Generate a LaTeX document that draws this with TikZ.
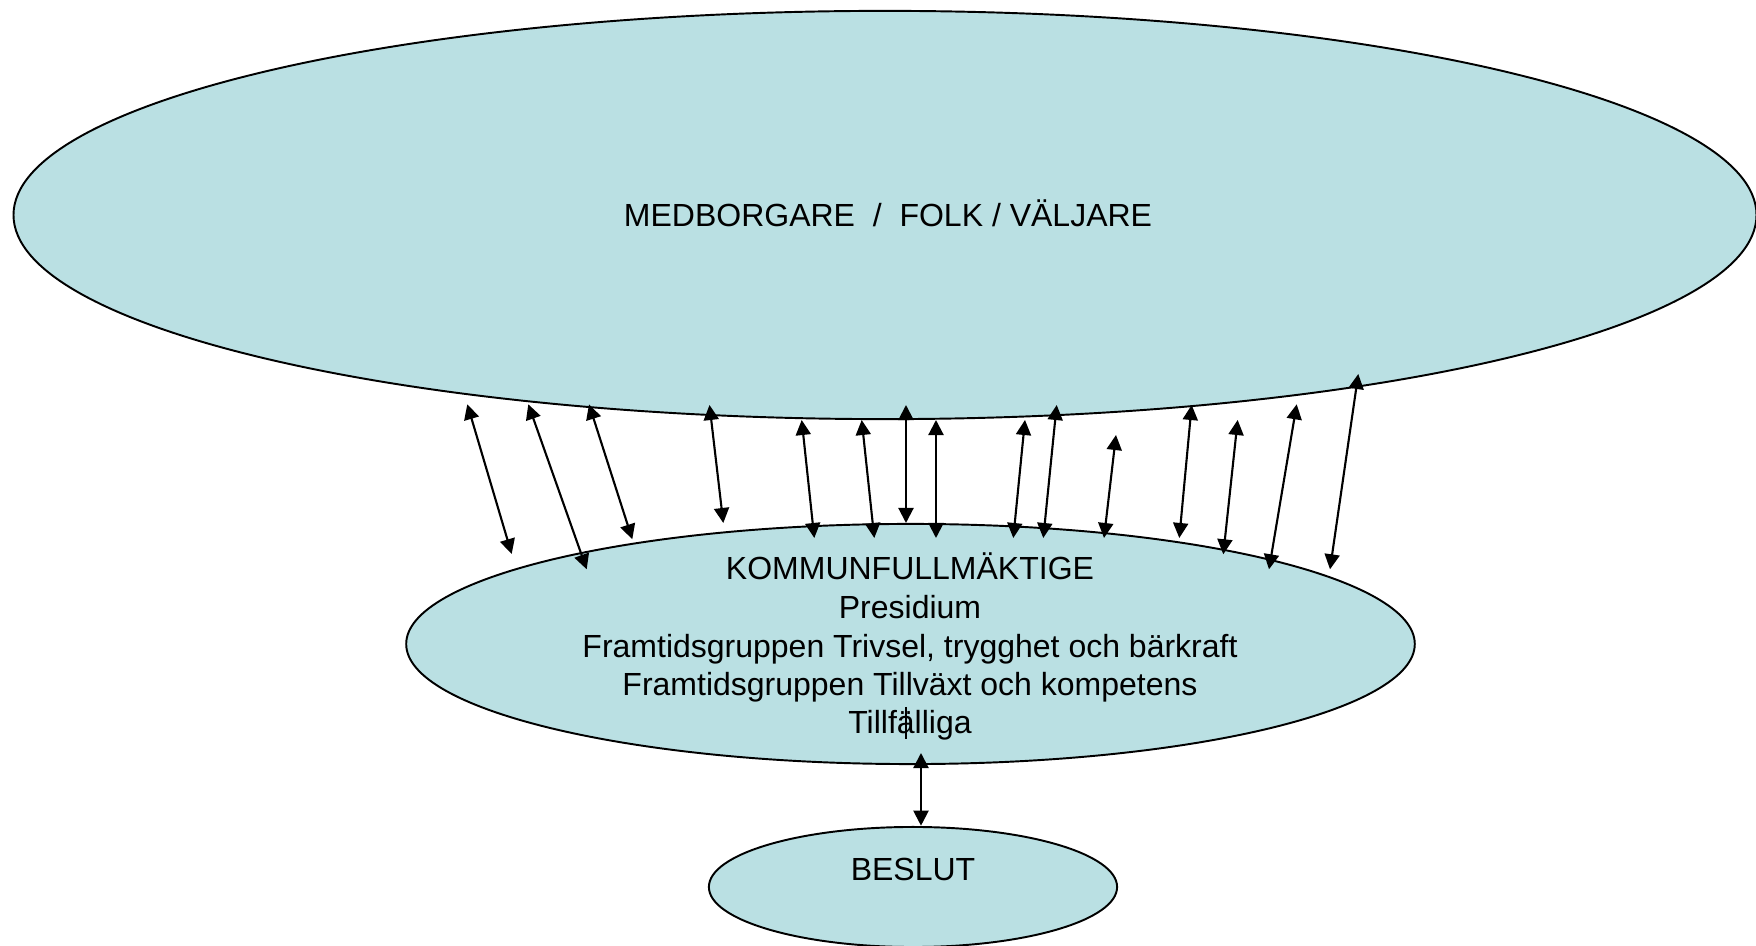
\documentclass[tikz,border=0pt]{standalone}
\usepackage{fontspec}
\setmainfont{Liberation Sans}
\usetikzlibrary{shapes.geometric,arrows.meta}
\definecolor{bubblefill}{RGB}{186,224,227}
\begin{document}
\begin{tikzpicture}[x=0.01cm,y=-0.01cm,
  bubble/.style={ellipse,draw=black,line width=0.55pt,fill=bubblefill,inner sep=0pt},
  link/.style={{Triangle[length=0.15cm,width=0.15cm]}-{Triangle[length=0.15cm,width=0.15cm]},line width=0.6pt},
  txt/.style={anchor=base,inner sep=0pt,font=\fontsize{9.1pt}{10.8pt}\selectfont}]
\useasboundingbox (0,0) rectangle (1756,946);
% ellipses
\node[bubble,minimum width=17.42cm,minimum height=4.08cm] (folk) at (885,215) {};
\node[bubble,minimum width=10.08cm,minimum height=2.40cm] (kf) at (910.5,644) {};
\node[bubble,minimum width=4.08cm,minimum height=1.20cm] (beslut) at (913,887) {};
% texts
\node[txt] (folktext) at (888,226.7) {MEDBORGARE\ \ /\ \ FOLK / VÄLJARE};
\node[txt] (kf1) at (910,579.3) {KOMMUNFULLMÄKTIGE};
\node[txt] (kf2) at (910,618.3) {Presidium};
\node[txt] (kf3) at (910,657.3) {Framtidsgruppen Trivsel, trygghet och bärkraft};
\node[txt] (kf4) at (910,695.5) {Framtidsgruppen Tillväxt och kompetens};
\node[txt] (kf5) at (910,733.5) {Tillfälliga};
\node[txt] (beslutext) at (913,881) {BESLUT};
% stray cursor mark
\draw[line width=0.35pt] (906,707) -- (906,739);
% connector end points
\coordinate (t1) at (467.3,404.3);  \coordinate (b1) at (511.7,554);
\coordinate (t2) at (528.3,404.3);  \coordinate (b2) at (586.7,569.3);
\coordinate (t3) at (589,404.3);    \coordinate (b3) at (632.3,539.3);
\coordinate (t4) at (709.5,405);    \coordinate (b4) at (723.3,523);
\coordinate (t5) at (801.7,420);    \coordinate (b5) at (814.3,538);
\coordinate (t6) at (861.7,420);    \coordinate (b6) at (874.3,538);
\coordinate (t7) at (906,405);      \coordinate (b7) at (906,523);
\coordinate (t8) at (936,420);      \coordinate (b8) at (936,538);
\coordinate (t9) at (1025,420);     \coordinate (b9) at (1013.3,538);
\coordinate (t10) at (1056.7,405);  \coordinate (b10) at (1043.3,538);
\coordinate (t11) at (1116,435);    \coordinate (b11) at (1104,538);
\coordinate (t12) at (1191.7,405);  \coordinate (b12) at (1179.3,538);
\coordinate (t13) at (1237.7,420);  \coordinate (b13) at (1223.3,554.3);
\coordinate (t14) at (1296.7,404.3); \coordinate (b14) at (1269,569.3);
\coordinate (t15) at (1358.3,374);  \coordinate (b15) at (1330,569.3);
\coordinate (t16) at (921,753);     \coordinate (b16) at (921,825.7);
\foreach \i in {1,...,16} {\draw[link] (t\i) -- (b\i);}
\end{tikzpicture}
\end{document}
